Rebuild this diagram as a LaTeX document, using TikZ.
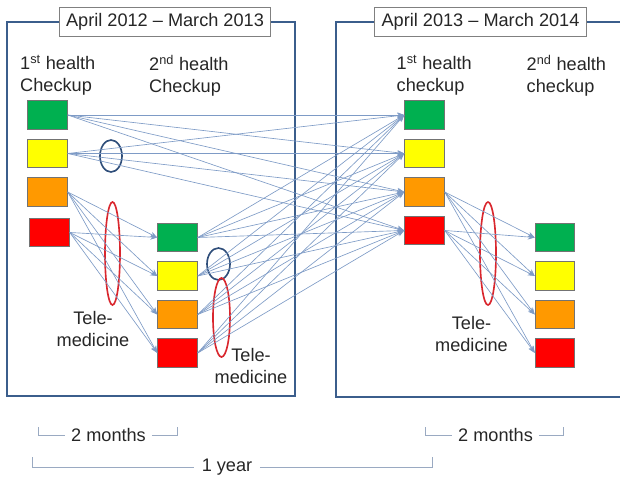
\documentclass[tikz,border=0pt]{standalone}
\usepackage{fontspec}
\setmainfont{Liberation Sans}
\usetikzlibrary{positioning,arrows.meta,shapes.geometric}

\definecolor{framecol}{HTML}{3B5E8C}
\definecolor{flowcol}{HTML}{7E9BC6}
\definecolor{bracketcol}{HTML}{9AAAC2}
\definecolor{ringblue}{HTML}{2F4E7A}
\definecolor{ringred}{HTML}{D9272E}
\definecolor{stgreen}{HTML}{00B050}
\definecolor{styellow}{HTML}{FFFF00}
\definecolor{storange}{HTML}{FF9900}
\definecolor{stred}{HTML}{FF0000}

\begin{document}
\begin{tikzpicture}[x=0.03cm,y=-0.03cm,node distance=0.27cm,>={Stealth[length=6pt,width=4.5pt]}]
\tikzset{
every node/.style = {font=\fontsize{15.5}{18.5}\selectfont, text=black!85},
frame/.style = {draw=framecol, line width=1.4pt},
titlebox/.style = {draw=black!50, fill=white, line width=0.8pt, minimum height=0.87cm, inner xsep=0.2cm},
heading/.style = {anchor=north west, align=left, inner sep=0pt},
box/.style = {draw=black!55, line width=0.7pt, minimum width=1.19cm, minimum height=0.86cm, inner sep=0pt},
flow/.style = {->, draw=flowcol, line width=0.55pt},
ring/.style = {draw, ellipse, line width=1.4pt, inner sep=0pt},
tele/.style = {align=center, inner sep=0pt},
period/.style = {inner xsep=0.17cm, inner ysep=0pt},
bracket/.style = {draw=bracketcol, line width=0.6pt}
}
\useasboundingbox (0,0) rectangle (620,479);

% panels
\draw [frame] (7,22) rectangle (295,396);
\draw [frame] (620,22) -- (336,22) -- (336,397) -- (620,397);
\node [titlebox] (titlefirst) at (165,21.5) {April 2012 -- March 2013};
\node [titlebox] (titlesecond) at (480.5,22) {April 2013 -- March 2014};

\node [heading] (headfirst) at (20,55) {1\textsuperscript{st} health\\Checkup};
\node [heading] (headsecond) at (149,55) {2\textsuperscript{nd} health\\Checkup};
\node [heading] (nextheadfirst) at (396.5,55) {1\textsuperscript{st} health\\checkup};
\node [heading] (nextheadsecond) at (526.5,55) {2\textsuperscript{nd} health\\checkup};

% 2012 checkups
\node [box, fill=stgreen] (firstgreen) at (47.5,115) {};
\node [box, fill=styellow, below = of firstgreen] (firstyellow) {};
\node [box, fill=storange, below = of firstyellow] (firstorange) {};
\node [box, fill=stred, below = 0.33cm of firstorange, xshift=0.06cm] (firstred) {};

\node [box, fill=stgreen] (secondgreen) at (177.5,237.5) {};
\node [box, fill=styellow, below = of secondgreen] (secondyellow) {};
\node [box, fill=storange, below = of secondyellow] (secondorange) {};
\node [box, fill=stred, below = of secondorange] (secondred) {};

% 2013 checkups
\node [box, fill=stgreen] (nextfirstgreen) at (424.5,115) {};
\node [box, fill=styellow, below = of nextfirstgreen] (nextfirstyellow) {};
\node [box, fill=storange, below = of nextfirstyellow] (nextfirstorange) {};
\node [box, fill=stred, below = of nextfirstorange] (nextfirstred) {};

\node [box, fill=stgreen] (nextsecondgreen) at (555,237.5) {};
\node [box, fill=styellow, below = of nextsecondgreen] (nextsecondyellow) {};
\node [box, fill=storange, below = of nextsecondyellow] (nextsecondorange) {};
\node [box, fill=stred, below = of nextsecondorange] (nextsecondred) {};

% rings
\node [ring, draw=ringblue, minimum width=0.66cm, minimum height=0.96cm] (bluering) at (111,156) {};
\node [ring, draw=ringblue, minimum width=0.69cm, minimum height=0.96cm] (nextbluering) at (218.5,264) {};
\node [ring, draw=ringred, minimum width=0.45cm, minimum height=3.09cm] (telering) at (112.5,253.5) {};
\node [ring, draw=ringred, minimum width=0.51cm, minimum height=2.37cm] (secondtelering) at (221.5,317.5) {};
\node [ring, draw=ringred, minimum width=0.48cm, minimum height=3.09cm] (nexttelering) at (488,253.5) {};

\node [tele] (telefirst) at (93,329) {Tele-\\medicine};
\node [tele] (telesecond) at (251,366) {Tele-\\medicine};
\node [tele] (telenext) at (471.5,334) {Tele-\\medicine};

% first to second checkup, 2012
\draw [flow] (firstorange.east) -- (secondgreen.west);
\draw [flow] (firstorange.east) -- (secondyellow.west);
\draw [flow] (firstorange.east) -- (secondorange.west);
\draw [flow] (firstorange.east) -- (secondred.west);
\draw [flow] (firstred.east) -- (secondgreen.west);
\draw [flow] (firstred.east) -- (secondyellow.west);
\draw [flow] (firstred.east) -- (secondorange.west);
\draw [flow] (firstred.east) -- (secondred.west);

% 2012 to 2013
\draw [flow] (firstgreen.east) -- (nextfirstgreen.west);
\draw [flow] (firstgreen.east) -- (nextfirstyellow.west);
\draw [flow] (firstgreen.east) -- (nextfirstorange.west);
\draw [flow] (firstgreen.east) -- (nextfirstred.west);
\draw [flow] (firstyellow.east) -- (nextfirstgreen.west);
\draw [flow] (firstyellow.east) -- (nextfirstyellow.west);
\draw [flow] (firstyellow.east) -- (nextfirstorange.west);
\draw [flow] (firstyellow.east) -- (nextfirstred.west);

\draw [flow] (secondgreen.east) -- (nextfirstgreen.west);
\draw [flow] (secondgreen.east) -- (nextfirstyellow.west);
\draw [flow] (secondgreen.east) -- (nextfirstorange.west);
\draw [flow] (secondgreen.east) -- (nextfirstred.west);
\draw [flow] (secondyellow.east) -- (nextfirstgreen.west);
\draw [flow] (secondyellow.east) -- (nextfirstyellow.west);
\draw [flow] (secondyellow.east) -- (nextfirstorange.west);
\draw [flow] (secondyellow.east) -- (nextfirstred.west);
\draw [flow] (secondorange.east) -- (nextfirstgreen.west);
\draw [flow] (secondorange.east) -- (nextfirstyellow.west);
\draw [flow] (secondorange.east) -- (nextfirstorange.west);
\draw [flow] (secondorange.east) -- (nextfirstred.west);
\draw [flow] (secondred.east) -- (nextfirstgreen.west);
\draw [flow] (secondred.east) -- (nextfirstyellow.west);
\draw [flow] (secondred.east) -- (nextfirstorange.west);
\draw [flow] (secondred.east) -- (nextfirstred.west);

% first to second checkup, 2013
\draw [flow] (nextfirstorange.east) -- (nextsecondgreen.west);
\draw [flow] (nextfirstorange.east) -- (nextsecondyellow.west);
\draw [flow] (nextfirstorange.east) -- (nextsecondorange.west);
\draw [flow] (nextfirstorange.east) -- (nextsecondred.west);
\draw [flow] (nextfirstred.east) -- (nextsecondgreen.west);
\draw [flow] (nextfirstred.east) -- (nextsecondyellow.west);
\draw [flow] (nextfirstred.east) -- (nextsecondorange.west);
\draw [flow] (nextfirstred.east) -- (nextsecondred.west);

% time spans
\node [period] (twomonths) at (108.5,435) {2 months};
\coordinate (twomonthsleft) at (38,427);
\coordinate (twomonthsright) at (177,427);
\draw [bracket] (twomonthsleft) |- (twomonths.west);
\draw [bracket] (twomonths.east) -| (twomonthsright);

\node [period] (nexttwomonths) at (495.5,435) {2 months};
\coordinate (nexttwomonthsleft) at (425,427);
\coordinate (nexttwomonthsright) at (563,427);
\draw [bracket] (nexttwomonthsleft) |- (nexttwomonths.west);
\draw [bracket] (nexttwomonths.east) -| (nexttwomonthsright);

\node [period, inner xsep=0.22cm] (oneyear) at (227,467) {1 year};
\coordinate (oneyearleft) at (32,457);
\coordinate (oneyearright) at (432,457);
\draw [bracket] (oneyearleft) |- (oneyear.west);
\draw [bracket] (oneyear.east) -| (oneyearright);
\end{tikzpicture}
\end{document}
